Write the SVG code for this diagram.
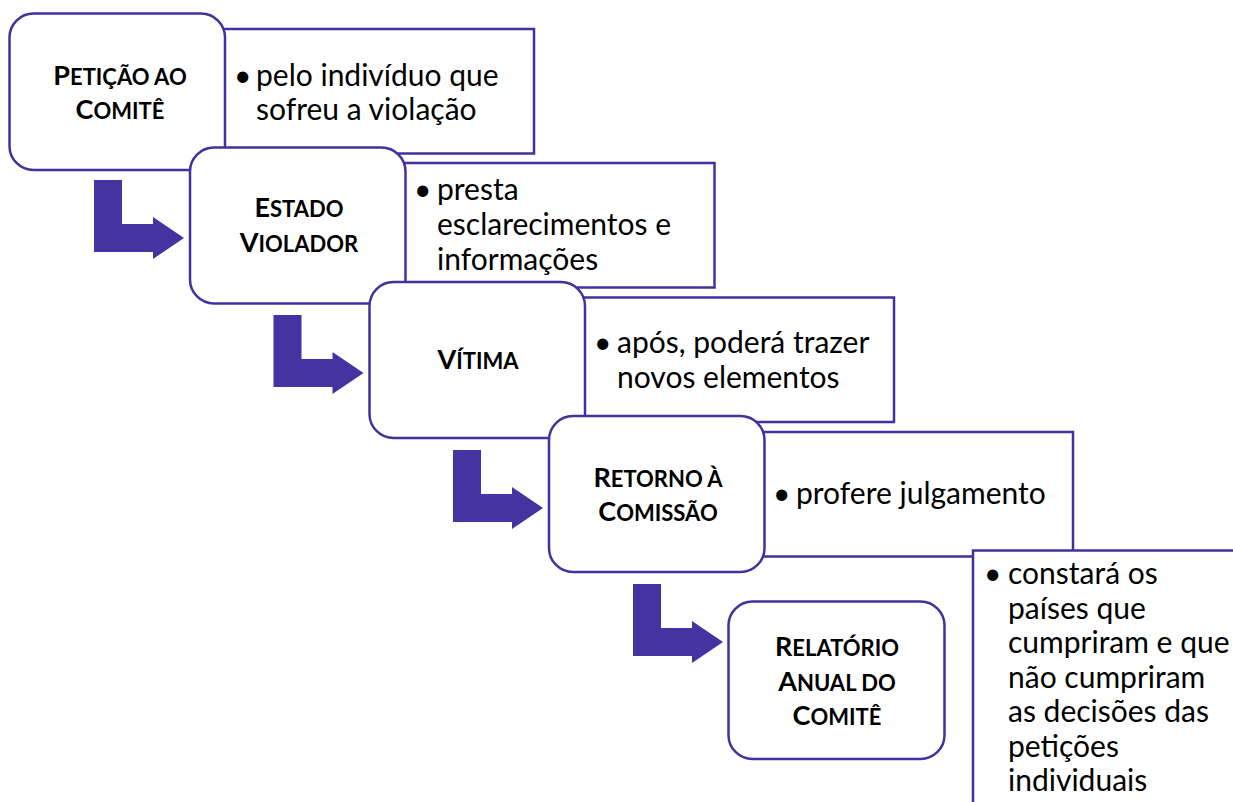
<svg xmlns="http://www.w3.org/2000/svg" width="1233" height="802" viewBox="0 0 1233 802">
<style>
.node{fill:#fff;stroke:#4232A0;stroke-width:2.5}
.box{fill:#fff;stroke:#4232A0;stroke-width:2.5}
.arr{fill:#4433A0}
.t{font-family:Lato,"Open Sans",sans-serif;font-weight:bold;font-size:22px;text-anchor:middle;fill:#000}
.c{font-size:27px}
.x{font-family:Lato,"Open Sans",sans-serif;font-size:30px;fill:#000}
</style>
<defs>
<path id="bent" d="M0,0 H28 V44 H59 V37 L90,58 L59,79 V72 H0 Z"/>
</defs>
<rect width="1233" height="802" fill="#fff"/>
<g id="connectors">
<use href="#bent" class="arr" transform="translate(94,180)"/>
<use href="#bent" class="arr" transform="translate(273.5,315)"/>
<use href="#bent" class="arr" transform="translate(453,450)"/>
<use href="#bent" class="arr" transform="translate(633,584)"/>
</g>
<g id="step1">
<rect class="box" x="222.5" y="29" width="311.5" height="124.5"/>
<text class="x" x="234" y="86">•</text>
<text class="x" x="256" y="86">pelo indivíduo que</text>
<text class="x" x="256" y="120">sofreu a violação</text>
<g id="node1">
<rect class="node" x="9.5" y="13.5" width="215.5" height="156.5" rx="24"/>
<text class="t" x="120" y="85"><tspan class="c">P</tspan>ETIÇÃO AO</text>
<text class="t" x="120" y="119"><tspan class="c">C</tspan>OMITÊ</text>
</g>
</g>
<g id="step2">
<rect class="box" x="403" y="163" width="311.5" height="124.5"/>
<text class="x" x="414" y="200">•</text>
<text class="x" x="437" y="200">presta</text>
<text class="x" x="437" y="235">esclarecimentos e</text>
<text class="x" x="437" y="270">informações</text>
<g id="node2">
<rect class="node" x="190" y="147.5" width="215.5" height="156" rx="24"/>
<text class="t" x="299" y="217"><tspan class="c">E</tspan>STADO</text>
<text class="t" x="299" y="252"><tspan class="c">V</tspan>IOLADOR</text>
</g>
</g>
<g id="step3">
<rect class="box" x="582.5" y="297.5" width="311.5" height="124.5"/>
<text class="x" x="594" y="353">•</text>
<text class="x" x="617" y="353">após, poderá trazer</text>
<text class="x" x="617" y="388">novos elementos</text>
<g id="node3">
<rect class="node" x="369.5" y="282" width="215.5" height="156" rx="24"/>
<text class="t" x="478" y="369"><tspan class="c">V</tspan>ÍTIMA</text>
</g>
</g>
<g id="step4">
<rect class="box" x="761.5" y="432" width="311.5" height="124.5"/>
<text class="x" x="773" y="504">•</text>
<text class="x" x="796" y="504">profere julgamento</text>
<g id="node4">
<rect class="node" x="549" y="416" width="215.5" height="156" rx="24"/>
<text class="t" x="658" y="487"><tspan class="c">R</tspan>ETORNO À</text>
<text class="t" x="658" y="521"><tspan class="c">C</tspan>OMISSÃO</text>
</g>
</g>
<g id="step5">
<rect class="box" x="973" y="550.5" width="300" height="300"/>
<text class="x" x="984" y="584">•</text>
<text class="x" x="1008" y="584">constará os</text>
<text class="x" x="1008" y="618.5">países que</text>
<text class="x" x="1008" y="653">cumpriram e que</text>
<text class="x" x="1008" y="687.5">não cumpriram</text>
<text class="x" x="1008" y="722">as decisões das</text>
<text class="x" x="1008" y="756.5">petições</text>
<text class="x" x="1008" y="791">individuais</text>
<g id="node5">
<rect class="node" x="728.5" y="601.5" width="216" height="157.5" rx="24"/>
<text class="t" x="837" y="656"><tspan class="c">R</tspan>ELATÓRIO</text>
<text class="t" x="837" y="690.5"><tspan class="c">A</tspan>NUAL DO</text>
<text class="t" x="837" y="725"><tspan class="c">C</tspan>OMITÊ</text>
</g>
</g>
</svg>
